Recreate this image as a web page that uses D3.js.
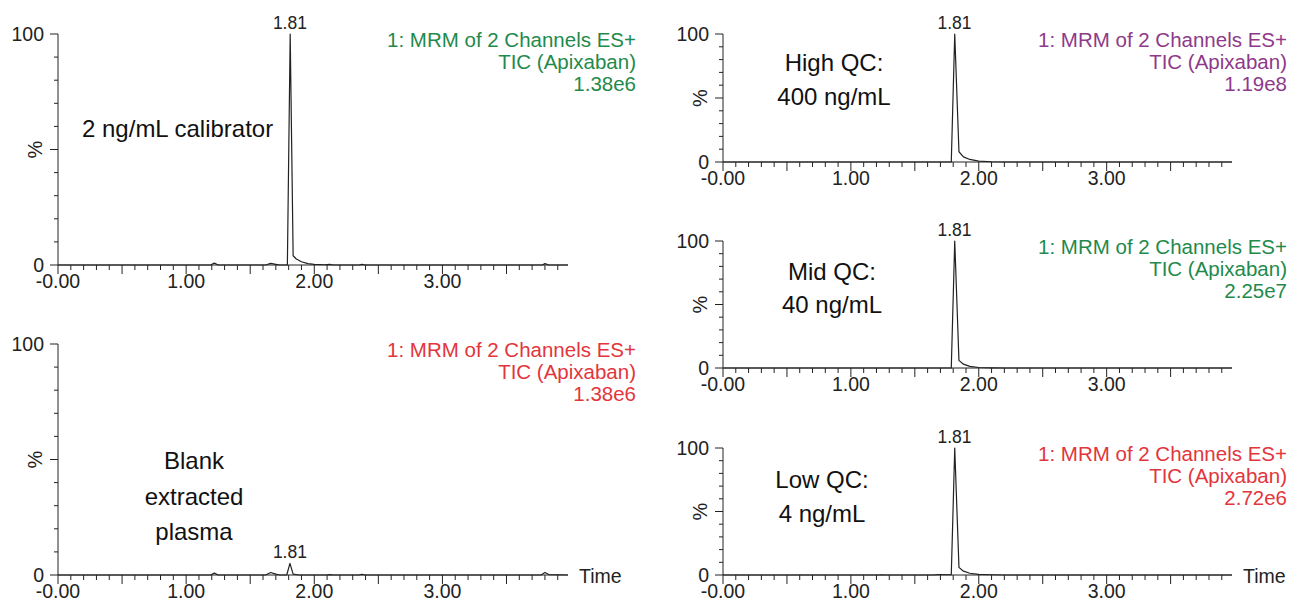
<!DOCTYPE html>
<html>
<head>
<meta charset="utf-8">
<script src="https://cdn.jsdelivr.net/npm/d3@7"></script>
<style>
  body { margin: 0; background: #fff; }
  svg { display: block; }
</style>
</head>
<body>
<div id="chart"></div>
<script>
// chromatogram traces, [time (min), relative intensity (%)]
const calibratorTrace = [
  [0, 0], [1.19, 0], [1.22, 0.8], [1.25, 0], [1.62, 0], [1.66, 0.7], [1.70, 0.3], [1.73, 0],
  [1.79, 0], [1.812, 100], [1.835, 4], [1.86, 2.6], [1.90, 1.4], [1.95, 0.6], [2.00, 0.3],
  [2.08, 0.1], [2.12, 0.3], [2.15, 0], [2.35, 0], [2.37, 0.3], [2.40, 0], [3.78, 0], [3.80, 0.6],
  [3.83, 0], [3.98, 0]
]
const blankTrace = [
  [0, 0], [1.19, 0], [1.22, 0.8], [1.25, 0], [1.62, 0], [1.66, 1.1], [1.70, 0.4], [1.73, 0],
  [1.785, 0], [1.81, 5], [1.835, 0.4], [1.88, 0], [2.10, 0], [2.12, 0.2], [2.15, 0], [2.35, 0],
  [2.37, 0.3], [2.40, 0], [3.77, 0], [3.80, 1.1], [3.83, 0.2], [3.98, 0]
]
const highQcTrace = [
  [0, 0], [1.785, 0], [1.812, 100], [1.845, 8], [1.88, 4], [1.93, 2], [2.00, 0.7], [2.10, 0.2],
  [2.20, 0], [3.98, 0]
]
const midQcTrace = [
  [0, 0], [1.785, 0], [1.812, 100], [1.845, 6], [1.88, 3], [1.93, 1.3], [2.00, 0.4], [2.10, 0.1],
  [2.20, 0], [3.98, 0]
]
const lowQcTrace = [
  [0, 0], [1.22, 0], [1.24, 0.2], [1.26, 0], [1.65, 0], [1.68, 0.3], [1.785, 0.2], [1.812, 100],
  [1.845, 6], [1.88, 3], [1.93, 1.4], [2.00, 0.5], [2.10, 0.2], [2.20, 0], [3.98, 0]
]

const peakTimes = [1.81, 1.81, 1.81, 1.81, 1.81]
const peakLabels = ["1.81", "1.81", "1.81", "1.81", "1.81"]
const traceTitle = ["1: MRM of 2 Channels ES+", "TIC (Apixaban)"]
const intensities = ["1.38e6", "1.38e6", "1.19e8", "2.25e7", "2.72e6"]
const annotations = [
  ["2 ng/mL calibrator"],
  ["Blank", "extracted", "plasma"],
  ["High QC:", "400 ng/mL"],
  ["Mid QC:", "40 ng/mL"],
  ["Low QC:", "4 ng/mL"]
]
const xTickValues = [0, 1, 2, 3]
const xTickLabels = ["-0.00", "1.00", "2.00", "3.00"]
const yTickValues = [0, 100]
const yTickLabels = ["0", "100"]
const timeDomain = [0, 3.98]

// panel layout (pixels)
const width = 1291
const height = 607
const green = "#1f8a4c"
const purple = "#8e3a8a"
const red = "#e2363c"

const panels = [
  { trace: calibratorTrace, x0: 58, x1: 568, top: 34, bottom: 265, titleRight: 636, color: green,
    note: { x: 82, y: 137, anchor: "start", dy: 35 }, time: false },
  { trace: blankTrace, x0: 58, x1: 568, top: 344, bottom: 575, titleRight: 636, color: red,
    note: { x: 194, y: 469, anchor: "middle", dy: 35.5 }, time: true },
  { trace: highQcTrace, x0: 723, x1: 1232, top: 34, bottom: 162, titleRight: 1287, color: purple,
    note: { x: 834, y: 71, anchor: "middle", dy: 34 }, time: false },
  { trace: midQcTrace, x0: 723, x1: 1232, top: 241, bottom: 368, titleRight: 1287, color: green,
    note: { x: 832, y: 280, anchor: "middle", dy: 33 }, time: false },
  { trace: lowQcTrace, x0: 723, x1: 1232, top: 448, bottom: 575, titleRight: 1287, color: red,
    note: { x: 822, y: 488, anchor: "middle", dy: 34 }, time: true }
]

const font = "'Liberation Sans', Arial, sans-serif"
const ink = "#222"
const tickSize = 19.5

const svg = d3.select("#chart").append("svg")
  .attr("width", width)
  .attr("height", height)
  .attr("font-family", font)

panels.forEach((p, i) => {
  const x = d3.scaleLinear().domain(timeDomain).range([p.x0, p.x1])
  const y = d3.scaleLinear().domain([0, 100]).range([p.bottom, p.top])
  const g = svg.append("g")

  // x axis with 0.1 minor / 0.5 major ticks
  const minor = d3.range(0, 40).map(d => d / 10)
  g.append("line")
    .attr("x1", p.x0).attr("x2", p.x1)
    .attr("y1", p.bottom).attr("y2", p.bottom)
    .attr("stroke", ink)
  g.append("g").selectAll("line")
    .data(minor)
    .join("line")
      .attr("x1", d => x(d)).attr("x2", d => x(d))
      .attr("y1", p.bottom)
      .attr("y2", (d, j) => p.bottom + (j % 5 === 0 ? 9 : 5))
      .attr("stroke", ink)
  g.append("g").selectAll("text")
    .data(xTickValues)
    .join("text")
      .attr("x", d => x(d))
      .attr("y", p.bottom + 23)
      .attr("text-anchor", "middle")
      .attr("font-size", tickSize)
      .attr("fill", ink)
      .text((d, j) => xTickLabels[j])

  // y axis, ticks every 10%
  g.append("line")
    .attr("x1", p.x0).attr("x2", p.x0)
    .attr("y1", p.top).attr("y2", p.bottom)
    .attr("stroke", ink)
  g.append("g").selectAll("line")
    .data(d3.range(0, 101, 10))
    .join("line")
      .attr("x1", d => p.x0 - (d % 50 === 0 ? 8 : 4)).attr("x2", p.x0)
      .attr("y1", d => y(d)).attr("y2", d => y(d))
      .attr("stroke", ink)
  g.append("g").selectAll("text")
    .data(yTickValues)
    .join("text")
      .attr("x", p.x0 - 14)
      .attr("y", d => y(d))
      .attr("dy", "0.36em")
      .attr("text-anchor", "end")
      .attr("font-size", tickSize)
      .attr("fill", ink)
      .text((d, j) => yTickLabels[j])
  g.append("text")
    .attr("transform", `translate(${p.x0 - 16},${y(50)}) rotate(-90)`)
    .attr("text-anchor", "middle")
    .attr("font-size", 20)
    .attr("fill", ink)
    .text("%")

  if (p.time) {
    g.append("text")
      .attr("x", p.x1 + 11)
      .attr("y", p.bottom + 8)
      .attr("font-size", 19.5)
      .attr("fill", ink)
      .text("Time")
  }

  // trace
  const line = d3.line()
    .x(d => x(d[0]))
    .y(d => y(d[1]))
  g.append("path")
    .datum(p.trace)
    .attr("d", line)
    .attr("fill", "none")
    .attr("stroke", ink)
    .attr("stroke-width", 1.2)
    .attr("stroke-linejoin", "round")

  // peak label at the apex
  const apex = d3.greatest(p.trace.filter(d => Math.abs(d[0] - peakTimes[i]) < 0.03), d => d[1])
  g.append("text")
    .attr("x", x(peakTimes[i]))
    .attr("y", y(apex[1]) - 5)
    .attr("text-anchor", "middle")
    .attr("font-size", 17.5)
    .attr("fill", ink)
    .text(peakLabels[i])

  // channel header, right aligned
  g.append("g").selectAll("text")
    .data([...traceTitle, intensities[i]])
    .join("text")
      .attr("x", p.titleRight)
      .attr("y", (d, j) => p.top + 13 + j * 22)
      .attr("text-anchor", "end")
      .attr("font-size", 20.5)
      .attr("fill", p.color)
      .text(d => d)

  // sample annotation
  g.append("g").selectAll("text")
    .data(annotations[i])
    .join("text")
      .attr("x", p.note.x)
      .attr("y", (d, j) => p.note.y + j * p.note.dy)
      .attr("text-anchor", p.note.anchor)
      .attr("font-size", 24)
      .attr("fill", "#111")
      .text(d => d)
})
</script>
</body>
</html>
